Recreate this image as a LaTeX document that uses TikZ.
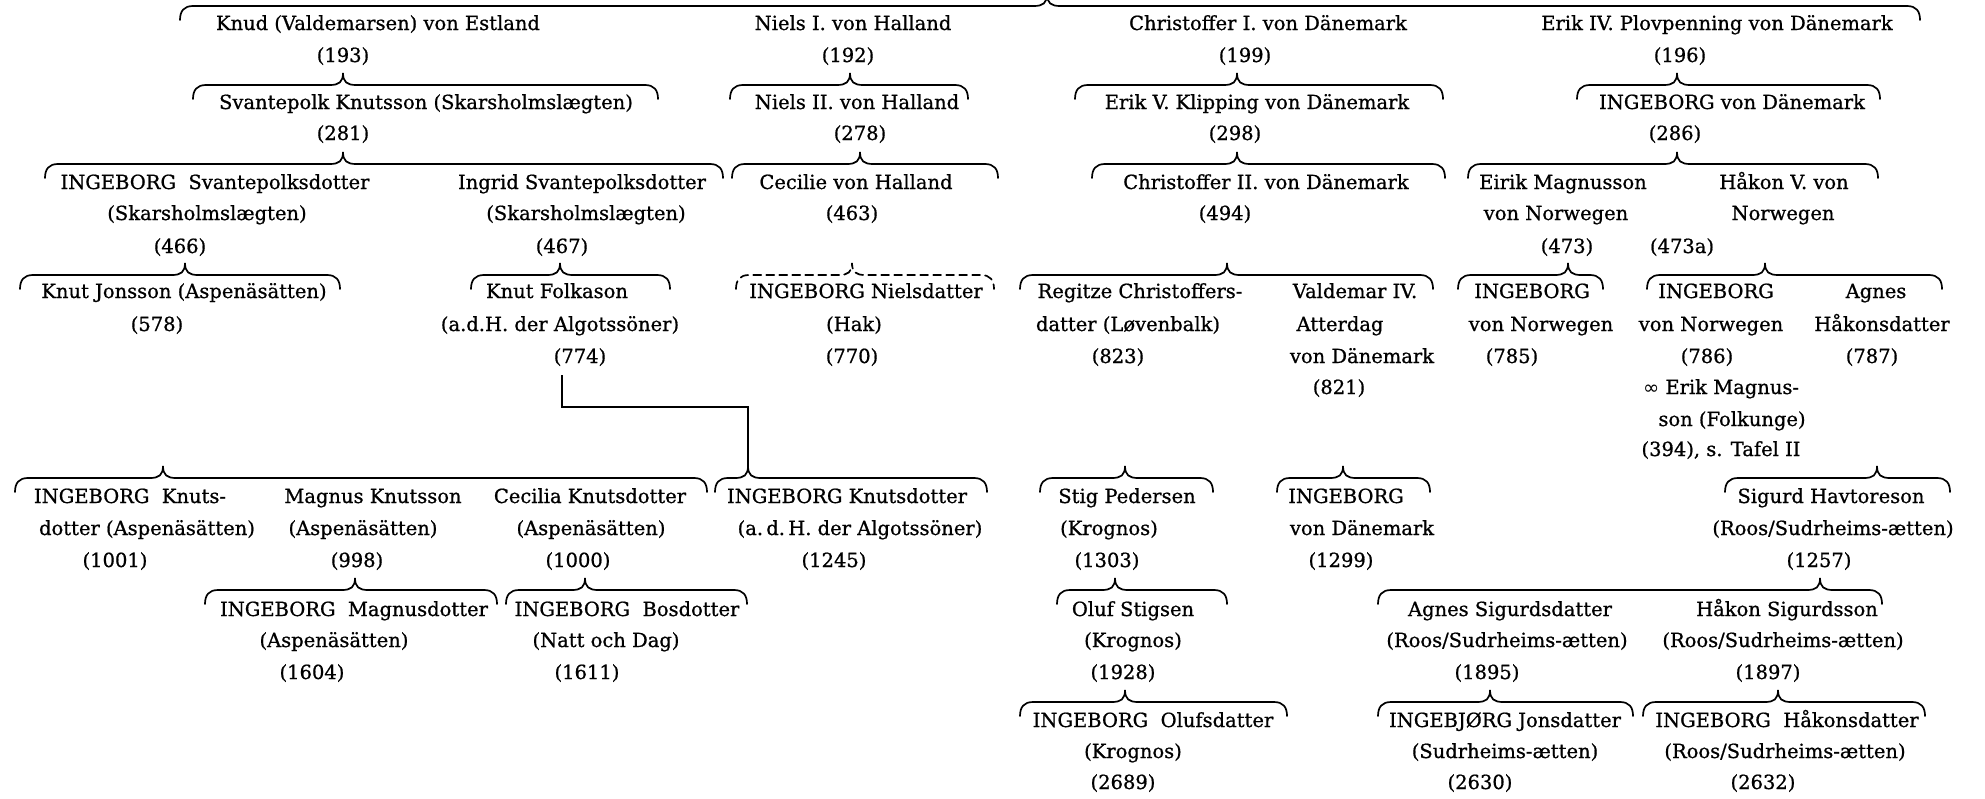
\documentclass[tikz,border=0pt]{standalone}
\usepackage{fontspec}
\setmainfont{DejaVu Serif}[FakeBold=0.8]
\newfontfamily\symfnt{DejaVu Sans}
\newcommand\gtx[4]{\node[tx] (#1) at (#2,#3+7) {#4};}
\newcommand\gbr[5][]{%
  \draw[br,#1] (#2,#4+14) .. controls (#2,#4+5) and (#2+4,#4) .. (#2+13,#4)
    -- (#5-13,#4) .. controls (#5-4,#4) and (#5,#4-3) .. (#5,#4-12)
    .. controls (#5,#4-3) and (#5+4,#4) .. (#5+13,#4)
    -- (#3-13,#4) .. controls (#3-4,#4) and (#3,#4+5) .. (#3,#4+14);}
\begin{document}
\begin{tikzpicture}[x=1pt,y=-1pt,
  tx/.style={anchor=base, inner sep=0pt, font=\fontsize{19.5}{23}\selectfont},
  br/.style={line width=1.7pt, line cap=round},
  conn/.style={line width=1.7pt}]
\fill[white] (0,0) rectangle (1985,798);
\useasboundingbox (0,0) rectangle (1985,798);

% ---------- generation 1 ----------
\gbr{180}{1920}{6}{1047}
\gtx{knud}{378}{23}{Knud (Valdemarsen) von Estland}
\gtx{n193}{343}{55}{(193)}
\gtx{niels1}{853}{23}{Niels I. von Halland}
\gtx{n192}{848}{55}{(192)}
\gtx{chr1}{1268}{23}{Christoffer I. von Dänemark}
\gtx{n199}{1245}{55}{(199)}
\gtx{erik4}{1717}{23}{Erik IV. Plovpenning von Dänemark}
\gtx{n196}{1680}{55}{(196)}

% ---------- generation 2 ----------
\gbr{193}{658}{85}{343}
\gbr{730}{968}{85}{850}
\gbr{1075}{1443}{85}{1237}
\gbr{1577}{1880}{85}{1677}
\gtx{svan}{426}{102}{Svantepolk Knutsson (Skarsholmslægten)}
\gtx{n281}{343}{133}{(281)}
\gtx{niels2}{857}{102}{Niels II. von Halland}
\gtx{n278}{860}{133}{(278)}
\gtx{erik5}{1257}{102}{Erik V. Klipping von Dänemark}
\gtx{n298}{1235}{133}{(298)}
\gtx{ing286}{1732}{102}{INGEBORG von Dänemark}
\gtx{n286}{1675}{133}{(286)}

% ---------- generation 3 ----------
\gbr{45}{723}{164}{343}
\gbr{732}{998}{164}{860}
\gbr{1092}{1445}{164}{1237}
\gbr{1468}{1878}{164}{1677}
\gtx{ingsv}{215}{182}{INGEBORG\ \ Svantepolksdotter}
\gtx{ingsvb}{207}{213}{(Skarsholmslægten)}
\gtx{n466}{180}{246}{(466)}
\gtx{ingr}{582}{182}{Ingrid Svantepolksdotter}
\gtx{ingrb}{586}{213}{(Skarsholmslægten)}
\gtx{n467}{562}{246}{(467)}
\gtx{ceci}{856}{182}{Cecilie von Halland}
\gtx{n463}{852}{213}{(463)}
\gtx{chr2}{1266}{182}{Christoffer II. von Dänemark}
\gtx{n494}{1225}{213}{(494)}
\gtx{eirik}{1563}{182}{Eirik Magnusson}
\gtx{eirikb}{1556}{213}{von Norwegen}
\gtx{n473}{1567}{246}{(473)}
\gtx{hakon5}{1784}{182}{Håkon V. von}
\gtx{hakon5b}{1783}{213}{Norwegen}
\gtx{n473a}{1682}{246}{(473a)}

% ---------- generation 4 ----------
\gbr{20}{340}{275}{185}
\gbr{471}{670}{275}{560}
\gbr[dash pattern=on 8pt off 5pt]{736}{994}{275}{852}
\gbr{1020}{1433}{275}{1227}
\gbr{1458}{1603}{275}{1568}
\gbr{1647}{1942}{275}{1765}
\gtx{knutj}{184}{291}{Knut Jonsson (Aspenäsätten)}
\gtx{n578}{157}{324}{(578)}
\gtx{knutf}{557}{291}{Knut Folkason}
\gtx{knutfb}{560}{324}{(a.d.H. der Algotssöner)}
\gtx{n774}{580}{356}{(774)}
\gtx{ingni}{866}{291}{INGEBORG Nielsdatter}
\gtx{ingnib}{854}{324}{(Hak)}
\gtx{n770}{852}{356}{(770)}
\gtx{regi}{1140}{291}{Regitze Christoffers-}
\gtx{regib}{1128}{324}{datter (Løvenbalk)}
\gtx{n823}{1118}{356}{(823)}
\gtx{vald}{1355}{291}{Valdemar IV.}
\gtx{valdb}{1340}{324}{Atterdag}
\gtx{valdc}{1362}{356}{von Dänemark}
\gtx{n821}{1339}{387}{(821)}
\gtx{ingno}{1532}{291}{INGEBORG}
\gtx{ingnob}{1541}{324}{von Norwegen}
\gtx{n785}{1512}{356}{(785)}
\gtx{ingnw}{1716}{291}{INGEBORG}
\gtx{ingnwb}{1711}{324}{von Norwegen}
\gtx{n786}{1707}{356}{(786)}
\gtx{ingnwc}{1721}{387}{{\symfnt ∞} Erik Magnus-}
\gtx{ingnwd}{1732}{419}{son (Folkunge)}
\gtx{ingnwe}{1721}{449}{(394), s. Tafel II}
\gtx{agnes}{1876}{291}{Agnes}
\gtx{agnesb}{1882}{324}{Håkonsdatter}
\gtx{n787}{1872}{356}{(787)}

% connector from (774)
\coordinate (c774) at (562,375);
\coordinate (tipk) at (748,466);
\draw[conn] (c774) |- (tipk |- 0,407) -- (tipk);

% ---------- generation 5 ----------
\gbr{15}{707}{478}{163}
\gbr{715}{987}{478}{748}
\gbr{1040}{1213}{478}{1125}
\gbr{1277}{1430}{478}{1343}
\gbr{1725}{1950}{478}{1877}
\gtx{ingkn}{130}{496}{INGEBORG\ \ Knuts-}
\gtx{ingknb}{147}{528}{dotter (Aspenäsätten)}
\gtx{n1001}{115}{560}{(1001)}
\gtx{magn}{373}{496}{Magnus Knutsson}
\gtx{magnb}{363}{528}{(Aspenäsätten)}
\gtx{n998}{357}{560}{(998)}
\gtx{cecil}{590}{496}{Cecilia Knutsdotter}
\gtx{cecilb}{591}{528}{(Aspenäsätten)}
\gtx{n1000}{578}{560}{(1000)}
\gtx{ingkd}{847}{496}{INGEBORG Knutsdotter}
\gtx{ingkdb}{860}{528}{(a.\,d.\,H. der Algotssöner)}
\gtx{n1245}{834}{560}{(1245)}
\gtx{stig}{1127}{496}{Stig Pedersen}
\gtx{stigb}{1109}{528}{(Krognos)}
\gtx{n1303}{1107}{560}{(1303)}
\gtx{ingda}{1346}{496}{INGEBORG}
\gtx{ingdab}{1362}{528}{von Dänemark}
\gtx{n1299}{1341}{560}{(1299)}
\gtx{sigurd}{1831}{496}{Sigurd Havtoreson}
\gtx{sigurdb}{1833}{528}{(Roos/Sudrheims-ætten)}
\gtx{n1257}{1819}{560}{(1257)}

% ---------- generation 6 ----------
\gbr{205}{497}{590}{355}
\gbr{506}{747}{590}{585}
\gbr{1057}{1227}{590}{1115}
\gbr{1378}{1882}{590}{1820}
\gtx{ingma}{354}{609}{INGEBORG\ \ Magnusdotter}
\gtx{ingmab}{334}{640}{(Aspenäsätten)}
\gtx{n1604}{312}{672}{(1604)}
\gtx{ingbo}{627}{609}{INGEBORG\ \ Bosdotter}
\gtx{ingbob}{606}{640}{(Natt och Dag)}
\gtx{n1611}{587}{672}{(1611)}
\gtx{oluf}{1133}{609}{Oluf Stigsen}
\gtx{olufb}{1133}{640}{(Krognos)}
\gtx{n1928}{1123}{672}{(1928)}
\gtx{agsig}{1510}{609}{Agnes Sigurdsdatter}
\gtx{agsigb}{1507}{640}{(Roos/Sudrheims-ætten)}
\gtx{n1895}{1487}{672}{(1895)}
\gtx{haksig}{1787}{609}{Håkon Sigurdsson}
\gtx{haksigb}{1783}{640}{(Roos/Sudrheims-ætten)}
\gtx{n1897}{1768}{672}{(1897)}

% ---------- generation 7 ----------
\gbr{1020}{1287}{702}{1125}
\gbr{1378}{1633}{702}{1490}
\gbr{1643}{1925}{702}{1778}
\gtx{ingol}{1153}{720}{INGEBORG\ \ Olufsdatter}
\gtx{ingolb}{1133}{751}{(Krognos)}
\gtx{n2689}{1123}{782}{(2689)}
\gtx{ingjo}{1505}{720}{INGEBJØRG Jonsdatter}
\gtx{ingjob}{1505}{751}{(Sudrheims-ætten)}
\gtx{n2630}{1480}{782}{(2630)}
\gtx{ingha}{1787}{720}{INGEBORG\ \ Håkonsdatter}
\gtx{inghab}{1785}{751}{(Roos/Sudrheims-ætten)}
\gtx{n2632}{1763}{782}{(2632)}
\end{tikzpicture}
\end{document}
